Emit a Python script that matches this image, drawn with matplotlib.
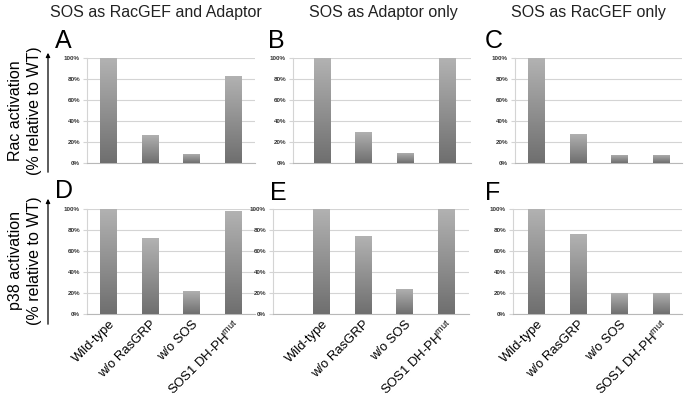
import matplotlib
matplotlib.use('Agg')
import matplotlib.pyplot as plt
import numpy as np
from matplotlib.colors import LinearSegmentedColormap
from matplotlib.patches import FancyArrowPatch

plt.rcParams['font.family'] = ['Liberation Sans', 'DejaVu Sans']
plt.rcParams['mathtext.fontset'] = 'custom'
plt.rcParams['mathtext.rm'] = 'Liberation Sans'

# data (percent relative to WT)
categories = ['Wild-type', 'w/o RasGRP', 'w/o SOS', 'SOS1 DH-PH$^{\\rm mut}$']
column_titles = ['SOS as RacGEF and Adaptor', 'SOS as Adaptor only', 'SOS as RacGEF only']
panel_letters = ['A', 'B', 'C', 'D', 'E', 'F']
rac_both = [100, 27, 9, 83]
rac_adaptor = [100, 30, 10, 100]
rac_gef = [100, 28, 8, 8]
p38_both = [100, 72, 22, 98]
p38_adaptor = [100, 74, 24, 100]
p38_gef = [100, 76, 20, 20]
yticks = [0, 20, 40, 60, 80, 100]

W, H = 691, 400
fig = plt.figure(figsize=(W / 100, H / 100), dpi=100)

grad = LinearSegmentedColormap.from_list('g', ['#6f6f6f', '#b2b2b2'])

# pixel layout: (left, right, first bar center) per column, (bottom, top) per row
cols = [(87, 255, 108.5), (293, 471, 322), (515, 682, 536.5)]
cols_bottom = [(87, 255, 108.5), (273, 469, 321.5), (513, 682, 536.5)]
rows = [(163, 58), (314, 209)]
spacing = 41.7
bar_w = 17 / spacing

panels = [rac_both, rac_adaptor, rac_gef, p38_both, p38_adaptor, p38_gef]
letter_pos = [(55, 48), (268, 48), (485, 48), (55, 198), (270, 200), (485, 200)]


def px(x, y):
    return x / W, 1 - y / H


for i, vals in enumerate(panels):
    r, c = divmod(i, 3)
    left, right, c0 = (cols if r == 0 else cols_bottom)[c]
    bot, top = rows[r]
    ax = fig.add_axes([left / W, 1 - bot / H, (right - left) / W, (bot - top) / H])
    x = np.arange(len(vals))
    bars = ax.bar(x, vals, width=bar_w, color='none', zorder=3)
    g = np.linspace(0, 1, 100).reshape(-1, 1)
    for b in bars:
        im = ax.imshow(g, cmap=grad, origin='lower', aspect='auto', zorder=3,
                       extent=[b.get_x(), b.get_x() + b.get_width(), 0, b.get_height()])
        im.set_clip_path(b)
    ax.set_xlim(-(c0 - left) / spacing, 3 + (right - (c0 + 3 * spacing)) / spacing)
    ax.set_ylim(0, 100)
    ax.set_yticks(yticks)
    ax.set_yticklabels([f'{v}%' for v in yticks], fontsize=4.5, fontweight='bold', color='#333333')
    ax.yaxis.grid(True, color='#d4d4d4', lw=0.8, zorder=0)
    ax.tick_params(axis='y', length=3, width=0.8, color='#d4d4d4', pad=2)
    ax.set_xticks(x)
    if r == 1:
        ax.set_xticklabels(categories, rotation=45, ha='right', va='top',
                           rotation_mode='anchor', fontsize=9.4)
        ax.tick_params(axis='x', length=0, pad=3)
        for lab in ax.get_xticklabels():
            lab.set_x(lab.get_position()[0] + 0.17)
    else:
        ax.set_xticklabels([])
        ax.tick_params(axis='x', length=0)
    for s in ['top', 'right']:
        ax.spines[s].set_visible(False)
    ax.spines['left'].set_color('#d4d4d4')
    ax.spines['left'].set_linewidth(0.8)
    ax.spines['bottom'].set_color('#b8b8b8')
    ax.spines['bottom'].set_linewidth(0.8)
    ax.set_facecolor('none')

    lx, ly = letter_pos[i]
    fig.text(*px(lx, ly), panel_letters[i], fontsize=18, ha='left', va='baseline')

# column titles
for cx, t in zip([156, 383, 588], column_titles):
    fig.text(*px(cx, 13), t, fontsize=11.5, ha='center', va='center', color='#222222')

# row labels
fig.text(*px(16, 111), 'Rac activation', rotation=90, fontsize=11.5, ha='center', va='center')
fig.text(*px(35, 111), '(% relative to WT)', rotation=90, fontsize=11.5, ha='center', va='center')
fig.text(*px(16, 261), 'p38 activation', rotation=90, fontsize=11.5, ha='center', va='center')
fig.text(*px(35, 261), '(% relative to WT)', rotation=90, fontsize=11.5, ha='center', va='center')

# arrows
for y0, y1 in [(175, 50), (327, 196)]:
    fig.add_artist(FancyArrowPatch(px(48, y0), px(48, y1), transform=fig.transFigure,
                                   arrowstyle='-|>', mutation_scale=6, lw=0.9, color='black'))

fig.savefig('out.png', dpi=100)
